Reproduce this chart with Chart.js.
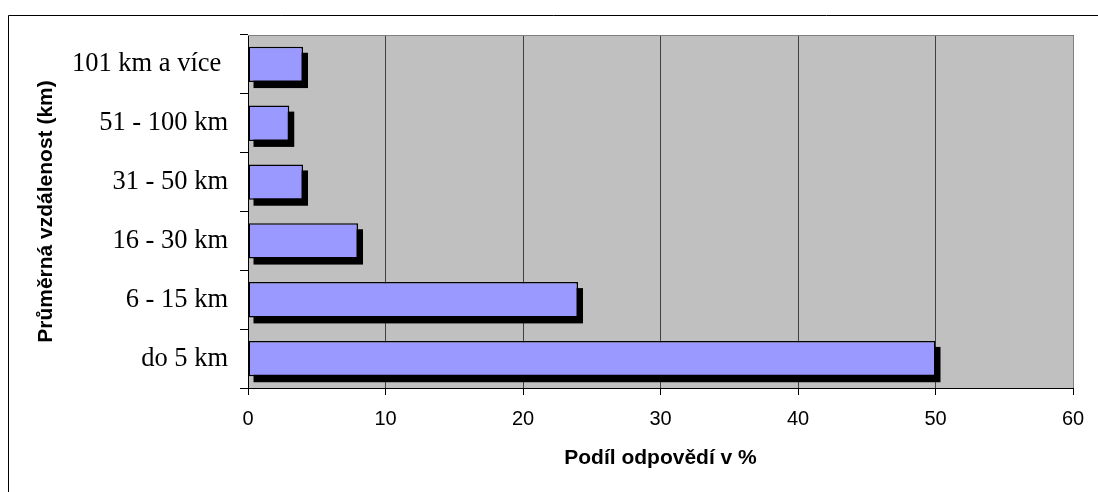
<!DOCTYPE html>
<html lang="cs">
<head>
    <meta charset="UTF-8">
    <title>Průměrná vzdálenost</title>
    <script src="https://cdn.jsdelivr.net/npm/chart.js@4.4.0/dist/chart.umd.min.js"></script>
    <style>
        body { margin: 0; background: #fff; }
        #wrap { width: 1098px; height: 492px; }
    </style>
</head>
<body>
    <div id="wrap">
        <canvas id="distChart" width="1098" height="492"></canvas>
    </div>

    <script>
        // Data
        const categories = ['101 km a více ', '51 - 100 km', '31 - 50 km', '16 - 30 km', '6 - 15 km', 'do 5 km'];
        const shares = [4, 3, 4, 8, 24, 50];
        const xTicks = [0, 10, 20, 30, 40, 50, 60];

        const xTitle = 'Podíl odpovědí v %';
        const yTitle = 'Průměrná vzdálenost (km)';

        // plot background, frame and outer border
        const framePlugin = {
            id: 'frame',
            beforeDraw(chart) {
                const ctx = chart.ctx;
                const a = chart.chartArea;
                ctx.save();
                ctx.fillStyle = '#C0C0C0';
                ctx.fillRect(a.left, a.top, a.right - a.left, a.bottom - a.top);
                // outer chart border
                ctx.strokeStyle = '#000';
                ctx.lineWidth = 1;
                ctx.beginPath();
                ctx.moveTo(8.5, chart.height + 2);
                ctx.lineTo(8.5, 15.5);
                ctx.lineTo(chart.width + 2, 15.5);
                ctx.stroke();
                ctx.restore();
            },
            afterDraw(chart) {
                const ctx = chart.ctx;
                const a = chart.chartArea;
                ctx.save();
                ctx.strokeStyle = '#808080';
                ctx.lineWidth = 1;
                ctx.beginPath();
                ctx.moveTo(a.left, a.top + 0.5);
                ctx.lineTo(a.right + 0.5, a.top + 0.5);
                ctx.lineTo(a.right + 0.5, a.bottom);
                ctx.stroke();
                ctx.restore();
            }
        };

        // black drop shadow behind each bar
        const shadowPlugin = {
            id: 'barShadow',
            beforeDatasetsDraw(chart) {
                const ctx = chart.ctx;
                const meta = chart.getDatasetMeta(0);
                ctx.save();
                ctx.fillStyle = '#000';
                meta.data.forEach(bar => {
                    const p = bar.getProps(['x', 'y', 'base', 'height'], true);
                    ctx.fillRect(p.base + 5, p.y - p.height / 2 + 6, p.x - p.base, p.height);
                });
                ctx.restore();
            }
        };

        new Chart(document.getElementById('distChart'), {
            type: 'bar',
            data: {
                labels: categories,
                datasets: [{
                    data: shares,
                    backgroundColor: '#9999FF',
                    borderColor: '#000',
                    borderWidth: 1.5,
                    borderSkipped: false,
                    barPercentage: 0.6,
                    categoryPercentage: 1.0
                }]
            },
            options: {
                indexAxis: 'y',
                responsive: false,
                animation: false,
                layout: { padding: { top: 35, right: 25, left: 0, bottom: 0 } },
                plugins: {
                    legend: { display: false },
                    tooltip: { enabled: false }
                },
                scales: {
                    x: {
                        min: 0,
                        max: 60,
                        afterBuildTicks(scale) {
                            scale.ticks = xTicks.map(v => ({ value: v }));
                        },
                        afterFit(scale) { scale.height = 104; },
                        border: { display: true, color: '#000', width: 1 },
                        grid: {
                            color: ctx => ctx.index === xTicks.length - 1 ? '#808080' : '#404040',
                            tickColor: '#000',
                            tickLength: 7,
                            lineWidth: 1
                        },
                        ticks: {
                            color: '#000',
                            padding: 12,
                            font: { family: 'Arial, "Liberation Sans"', size: 20 }
                        },
                        title: {
                            display: true,
                            text: xTitle,
                            color: '#000',
                            padding: { top: 0, bottom: 21 },
                            font: { family: 'Arial, "Liberation Sans"', size: 21, weight: 'bold' }
                        }
                    },
                    y: {
                        afterFit(scale) { scale.width = 248; },
                        border: { display: true, color: '#000', width: 1 },
                        grid: {
                            offset: true,
                            drawOnChartArea: false,
                            color: '#000',
                            tickLength: 8
                        },
                        ticks: {
                            color: '#000',
                            padding: 12,
                            font: { family: '"Times New Roman", "Liberation Serif"', size: 26.5 }
                        },
                        title: {
                            display: true,
                            text: yTitle,
                            color: '#000',
                            padding: { top: 34, bottom: 0 },
                            font: { family: 'Arial, "Liberation Sans"', size: 21, weight: 'bold' }
                        }
                    }
                }
            },
            plugins: [framePlugin, shadowPlugin]
        });
    </script>
</body>
</html>
